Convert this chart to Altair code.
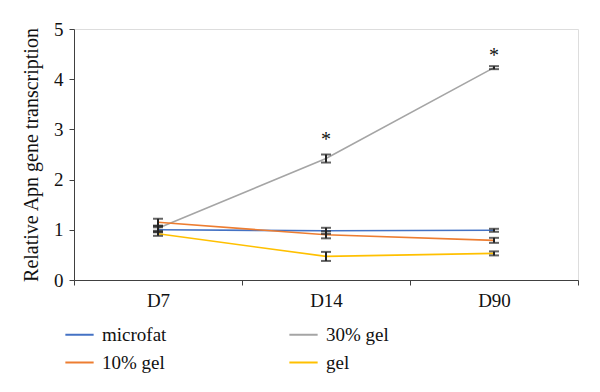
import altair as alt
import pandas as pd

days = ["D7", "D14", "D90"]
series = ["microfat", "10% gel", "30% gel", "gel"]
colors = ["#4472C4", "#ED7D31", "#A5A5A5", "#FFC000"]

microfat = [1.00, 0.98, 0.99]
microfat_err = [0.05, 0.06, 0.03]
gel30 = [1.03, 2.42, 4.23]
gel30_err = [0.05, 0.08, 0.03]
gel10 = [1.15, 0.90, 0.79]
gel10_err = [0.07, 0.07, 0.05]
gel = [0.92, 0.47, 0.53]
gel_err = [0.04, 0.09, 0.04]

star_days = ["D14", "D90"]
star_y = [2.78, 4.47]

rows = []
for name, vals, errs in [("microfat", microfat, microfat_err),
                         ("30% gel", gel30, gel30_err),
                         ("10% gel", gel10, gel10_err),
                         ("gel", gel, gel_err)]:
    for d, v, e in zip(days, vals, errs):
        rows.append({"day": d, "series": name, "value": v, "lo": v - e, "hi": v + e})
df = pd.DataFrame(rows)
stars = pd.DataFrame({"day": star_days, "y": star_y, "t": ["*"] * len(star_days)})

FONT = "Liberation Serif"
LFONT = "Times New Roman, DejaVu Serif"
YTITLE = "Relative Apn gene transcription"

x = alt.X("day:N", sort=days, title=None,
          scale=alt.Scale(paddingInner=0, paddingOuter=0),
          axis=alt.Axis(labelAngle=0, tickBand="extent", labelFontSize=19,
                        labelPadding=6, tickSize=5, domainColor="#404040",
                        tickColor="#404040", labelColor="#111", labelFont=FONT))

lines = alt.Chart(df).mark_line(strokeWidth=1.6).encode(
    x=x,
    y=alt.Y("value:Q", title=YTITLE,
            scale=alt.Scale(domain=[0, 5]),
            axis=alt.Axis(values=[0, 1, 2, 3, 4, 5], grid=False, tickSize=5,
                          labelFontSize=19, labelPadding=6, titleFontSize=20,
                          titleFontWeight="normal", titlePadding=12,
                          domainColor="#404040", tickColor="#404040",
                          labelColor="#111", titleColor="#111",
                          labelFont=FONT, titleFont=FONT)),
    color=alt.Color("series:N", sort=series,
                    scale=alt.Scale(domain=series, range=colors),
                    legend=alt.Legend(title=None, orient="none", legendX=-10, legendY=290,
                                      columns=2, symbolType="stroke", symbolSize=800,
                                      symbolStrokeWidth=2, labelFontSize=19,
                                      labelFont=LFONT,
                                      labelColor="#111",
                                      columnPadding=118, rowPadding=2, labelOffset=7)),
)

bars = alt.Chart(df).mark_errorbar(ticks=True, size=10, thickness=2, color="#222").encode(
    x=alt.X("day:N", sort=days),
    y=alt.Y("lo:Q", title=YTITLE),
    y2="hi:Q",
)

txt = alt.Chart(stars).mark_text(fontSize=20, font=FONT, color="#111", baseline="middle").encode(
    x=alt.X("day:N", sort=days),
    y=alt.Y("y:Q", title=YTITLE),
    text="t:N",
)

chart = alt.layer(lines, bars, txt).properties(
    width=504, height=251,
    autosize=alt.AutoSizeParams(type="none"),
    padding={"left": 66, "top": 21, "right": 10, "bottom": 105},
).configure_view(stroke=None).configure(background="white", font=FONT).configure_axis(
    labelFont=FONT, titleFont=FONT
)

chart.save("out.html", embed_options={"renderer": "svg", "actions": False})
